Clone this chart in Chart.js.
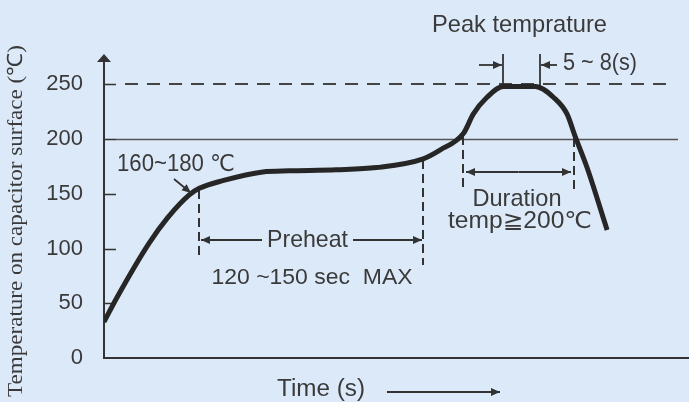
<!DOCTYPE html>
<html><head><meta charset="utf-8">
<script src="https://cdn.jsdelivr.net/npm/chart.js@4/dist/chart.umd.min.js"></script>
<style>html,body{margin:0;padding:0;background:#dce9f8;overflow:hidden}#wrap{width:689px;height:402px;position:relative}</style>
</head><body><div id="wrap"><canvas id="c" width="689" height="402"></canvas></div>
<script>
// ---- data ----
const times = [0, 8, 27, 38, 51, 57, 71, 95, 111, 139, 163, 191, 201, 215, 221, 229, 239, 258, 269, 277, 282, 289, 301];
const temps = [33, 56, 105, 128, 149, 155, 162, 170, 171, 172, 174, 182, 190, 205, 223, 238, 248, 248, 238, 223, 202, 174, 117];
const yTicks = [0, 50, 100, 150, 200, 250];
const peakLimit = 250;
const durationLimit = 200;
const preheatTimes = [57, 191];
const durationTimes = [215, 281];
const peakTimes = [239, 261];
const yTitle = 'Temperature on capacitor surface (℃)';
const xTitle = 'Time (s)';

const BG = '#dce9f8';
const INK = '#333';
const TXT = '#3a3a3a';
const SANS = '"Liberation Sans", Arial, "DejaVu Sans", sans-serif';
const SERIF = '"Liberation Serif", "Times New Roman", serif';

function seg(ctx, x1, y1, x2, y2) { ctx.beginPath(); ctx.moveTo(x1, y1); ctx.lineTo(x2, y2); ctx.stroke(); }
function head(ctx, x1, y1, x2, y2, len = 9, hw = 4) {
  const a = Math.atan2(y2 - y1, x2 - x1);
  ctx.beginPath();
  ctx.moveTo(x2, y2);
  ctx.lineTo(x2 - len * Math.cos(a) + hw * Math.sin(a), y2 - len * Math.sin(a) - hw * Math.cos(a));
  ctx.lineTo(x2 - len * Math.cos(a) - hw * Math.sin(a), y2 - len * Math.sin(a) + hw * Math.cos(a));
  ctx.closePath(); ctx.fill();
}
function arrow(ctx, x1, y1, x2, y2) { seg(ctx, x1, y1, x2, y2); head(ctx, x1, y1, x2, y2); }
function fitText(ctx, txt, cx, cy, w, size, fam, rot) {
  ctx.save();
  ctx.font = size + 'px ' + fam;
  const m = ctx.measureText(txt).width;
  ctx.translate(cx, cy);
  if (rot) ctx.rotate(rot);
  ctx.scale(w / m, 1);
  ctx.textAlign = 'center'; ctx.textBaseline = 'middle';
  ctx.fillStyle = TXT;
  ctx.fillText(txt, 0, 0);
  ctx.restore();
}

const deco = {
  id: 'deco',
  beforeDraw(chart) {
    const c = chart.ctx; c.save(); c.fillStyle = BG; c.fillRect(0, 0, chart.width, chart.height); c.restore();
  },
  beforeDatasetsDraw(chart) {
    const { ctx, scales: { x, y } } = chart;
    const L = x.left, B = y.bottom;
    ctx.save();
    ctx.strokeStyle = INK; ctx.fillStyle = INK;
    // axes
    ctx.lineWidth = 2;
    seg(ctx, L, B, x.right, B);
    seg(ctx, L, B + 1, L, y.top + 3);
    ctx.beginPath(); ctx.moveTo(L, y.top - 3); ctx.lineTo(L - 7, y.top + 5); ctx.lineTo(L + 7, y.top + 5); ctx.closePath(); ctx.fill();
    // tick marks
    ctx.lineWidth = 1.5;
    yTicks.forEach(v => { const py = Math.round(y.getPixelForValue(v)) + 0.5; if (v > 0) seg(ctx, L, py, L + 12, py); });
    // reference lines
    ctx.strokeStyle = '#555'; ctx.lineWidth = 1.5;
    const p200 = Math.round(y.getPixelForValue(durationLimit)) + 0.5;
    seg(ctx, L + 12, p200, x.right - 11, p200);
    ctx.strokeStyle = '#444'; ctx.lineWidth = 2;
    const p250 = Math.round(y.getPixelForValue(peakLimit));
    ctx.setLineDash([13, 9]);
    seg(ctx, L + 21, p250, x.right - 16, p250);
    ctx.setLineDash([]);
    // dashed verticals
    ctx.strokeStyle = INK; ctx.lineWidth = 2; ctx.setLineDash([9, 5]);
    const xp = t => Math.round(x.getPixelForValue(t));
    seg(ctx, xp(preheatTimes[0]), 190, xp(preheatTimes[0]), 258);
    seg(ctx, xp(preheatTimes[1]), 160, xp(preheatTimes[1]), 265);
    seg(ctx, xp(durationTimes[0]), 136, xp(durationTimes[0]), 190);
    seg(ctx, xp(durationTimes[1]), 138, xp(durationTimes[1]), 190);
    ctx.setLineDash([]);
    // peak bars
    ctx.lineWidth = 1.8;
    seg(ctx, xp(peakTimes[0]), 54, xp(peakTimes[0]), 86);
    seg(ctx, xp(peakTimes[1]), 54, xp(peakTimes[1]), 86);
    ctx.restore();
  },
  afterDatasetsDraw(chart) {
    const { ctx, scales: { x, y } } = chart;
    const xp = t => Math.round(x.getPixelForValue(t));
    ctx.save();
    ctx.strokeStyle = INK; ctx.fillStyle = INK; ctx.lineWidth = 1.8;
    // peak arrows
    arrow(ctx, xp(peakTimes[0]) - 24, 65, xp(peakTimes[0]) - 1, 65);
    arrow(ctx, xp(peakTimes[1]) + 17, 65, xp(peakTimes[1]) + 1, 65);
    // duration arrow
    const d0 = xp(durationTimes[0]) + 3, d1 = xp(durationTimes[1]) - 3;
    arrow(ctx, (d0 + d1) / 2, 172, d0, 172);
    arrow(ctx, (d0 + d1) / 2, 172, d1, 172);
    // preheat arrows
    arrow(ctx, 262, 240, xp(preheatTimes[0]) + 2, 240);
    arrow(ctx, 353, 240, xp(preheatTimes[1]) - 1, 240);
    // 160~180 arrow
    arrow(ctx, 174, 179, 191, 193);
    // time arrow
    arrow(ctx, 387, 392, 500, 392);
    ctx.restore();
    // texts
    fitText(ctx, 'Peak temprature', 519.5, 25, 175, 24, SANS);
    fitText(ctx, '5 ~ 8(s)', 600, 63, 74, 24, SANS);
    fitText(ctx, '160~180 ℃', 176, 165, 118, 23, SANS);
    fitText(ctx, 'Preheat', 307.5, 240, 81, 24, SANS);
    fitText(ctx, '120 ~150 sec  MAX', 312, 278, 201, 22, SANS);
    fitText(ctx, 'Duration', 517, 199, 89, 24, SANS);
    fitText(ctx, 'temp≧200℃', 520, 222, 144, 23, SANS);
    fitText(ctx, xTitle, 321, 390, 88, 23, SANS);
    fitText(ctx, yTitle, 16, 221, 352, 21, SERIF, -Math.PI / 2);
  }
};

new Chart(document.getElementById('c'), {
  type: 'line',
  data: {
    datasets: [{
      data: times.map((t, i) => ({ x: t, y: temps[i] })),
      borderColor: '#262626',
      borderWidth: 5,
      pointRadius: 0,
      fill: false,
      cubicInterpolationMode: 'monotone',
      borderCapStyle: 'butt',
      borderJoinStyle: 'round'
    }]
  },
  options: {
    responsive: false,
    animation: false,
    devicePixelRatio: 1,
    layout: { padding: { top: 57, bottom: 44, left: 0, right: 0 } },
    plugins: { legend: { display: false }, tooltip: { enabled: false } },
    scales: {
      x: { type: 'linear', min: 0, max: 350, display: false },
      y: {
        type: 'linear', min: 0, max: 275,
        grid: { display: false, drawTicks: false },
        border: { display: false },
        afterBuildTicks: s => { s.ticks = yTicks.map(v => ({ value: v })); },
        afterFit: s => { s.width = 104; },
        ticks: { padding: 21, color: TXT, font: { family: SANS, size: 22 } }
      }
    }
  },
  plugins: [deco]
});
</script>
</body></html>
